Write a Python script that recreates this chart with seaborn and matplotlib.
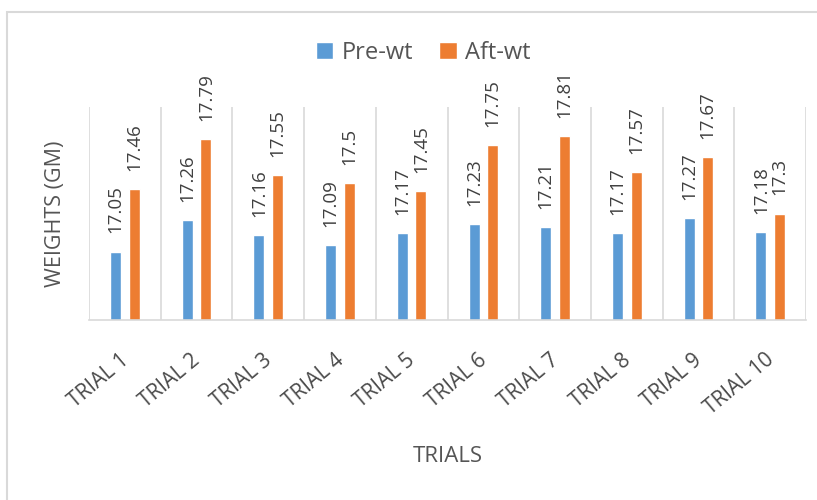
import numpy as np
import pandas as pd
import matplotlib
matplotlib.use("Agg")
import matplotlib.pyplot as plt
import matplotlib.transforms as mtransforms
from matplotlib.patches import Rectangle
import seaborn as sns

### Data
trials = ["TRIAL 1", "TRIAL 2", "TRIAL 3", "TRIAL 4", "TRIAL 5",
          "TRIAL 6", "TRIAL 7", "TRIAL 8", "TRIAL 9", "TRIAL 10"]
pre_wt = [17.05, 17.26, 17.16, 17.09, 17.17, 17.23, 17.21, 17.17, 17.27, 17.18]
aft_wt = [17.46, 17.79, 17.55, 17.5, 17.45, 17.75, 17.81, 17.57, 17.67, 17.3]
series = ["Pre-wt", "Aft-wt"]

df = pd.DataFrame({
    "trial": trials * 2,
    "series": [series[0]] * len(trials) + [series[1]] * len(trials),
    "weight": pre_wt + aft_wt,
})

sns.set_theme(style="white")
plt.rcParams["font.family"] = ["Open Sans", "DejaVu Sans"]
txt = "#555555"
grid_c = "#d9d9d9"

fig = plt.figure(figsize=(8.17, 5.0), dpi=100)
ax = fig.add_axes([89 / 817, 1 - 320 / 500, (806 - 89) / 817, (320 - 107) / 500])

sns.barplot(data=df, x="trial", y="weight", hue="series",
            palette=["#5b9bd5", "#ed7d31"], saturation=1, width=0.52, gap=0.41,
            ax=ax, legend=True)

ax.set_ylim(16.6, 18.0)
ax.set_xlim(-0.5, len(trials) - 0.5)

for cont in ax.containers:
    ax.bar_label(cont, labels=[f"{v:g}" for v in cont.datavalues],
                 rotation=90, padding=13, fontsize=13.5, color="#404040")

# category separators
ax.set_xticks(np.arange(-0.5, len(trials), 1), minor=True)
ax.grid(True, which="minor", axis="x", color=grid_c, lw=1.2)
ax.tick_params(axis="x", which="both", length=0)
ax.set_yticks([])
for s in ["top", "right", "left"]:
    ax.spines[s].set_visible(False)
ax.spines["bottom"].set_color(grid_c)
ax.spines["bottom"].set_linewidth(1.2)

ax.set_xticks(range(len(trials)))
ax.set_xticklabels(trials, rotation=40, ha="right", va="center",
                   rotation_mode="anchor", fontsize=15, color="#4a4a4a")
ax.tick_params(axis="x", which="major", pad=27)
shift = mtransforms.ScaledTranslation(1 / 100, 0, fig.dpi_scale_trans)
for lbl in ax.get_xticklabels():
    lbl.set_transform(lbl.get_transform() + shift)

ax.set_xlabel("TRIALS", fontsize=16, color=txt)
ax.xaxis.set_label_coords(0.5, -0.59)
ax.set_ylabel("WEIGHTS (GM)", fontsize=15.5, color=txt)
ax.yaxis.set_label_coords(-0.032, 0.5)

ax.legend(loc="center", bbox_to_anchor=(0.466, 1.255), ncol=2,
          frameon=False, fontsize=17, handlelength=0.75, handleheight=0.75,
          handletextpad=0.35, columnspacing=1.1, labelcolor=txt)

# outer chart frame
fig.patches.append(Rectangle((7 / 817, -0.1), 1.2, 1.1 - 12 / 500, fill=False,
                             edgecolor=grid_c, lw=1.5, transform=fig.transFigure))

fig.savefig("out.png", dpi=100)
